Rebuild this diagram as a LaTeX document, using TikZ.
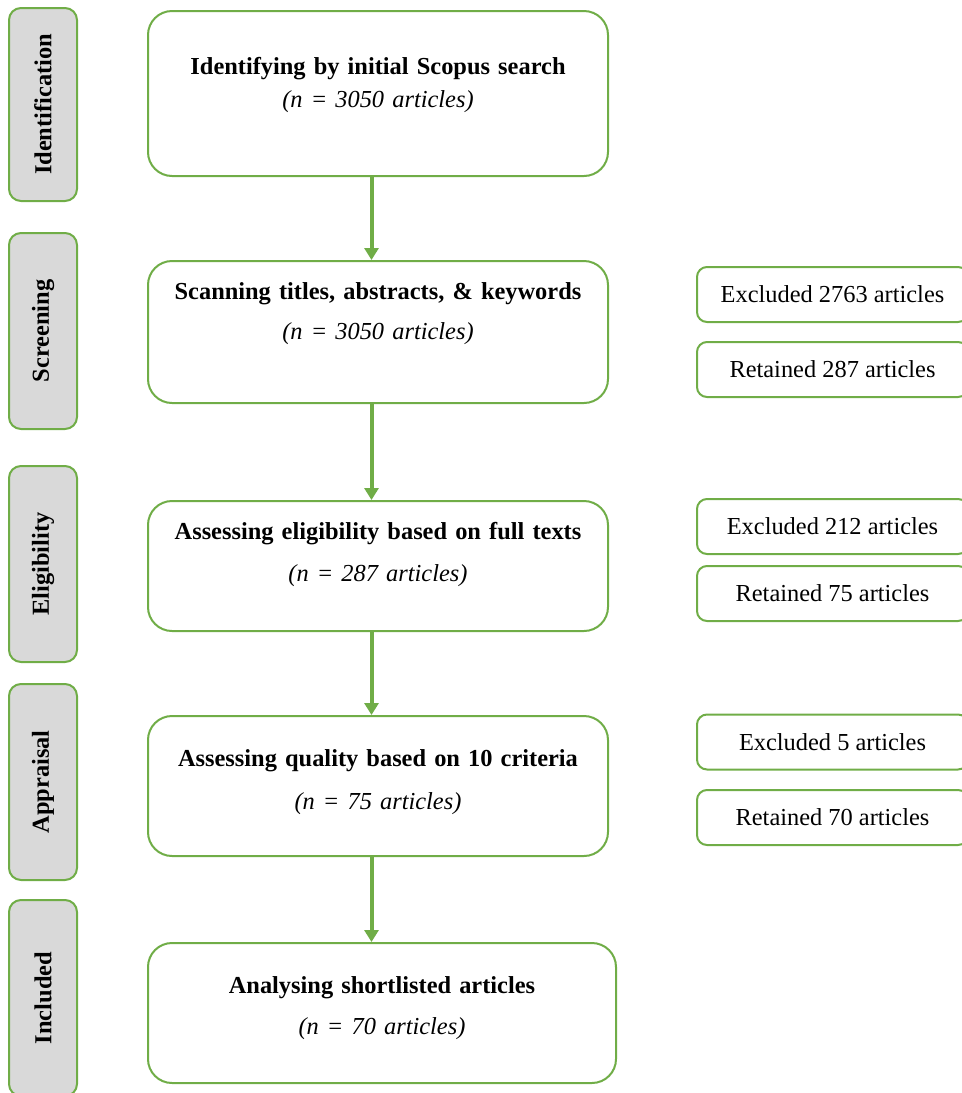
\documentclass[tikz,border=0pt]{standalone}
\usepackage{fontspec}
\setmainfont{Liberation Serif}
\usepackage{tikz}
\usetikzlibrary{arrows.meta,positioning}
\definecolor{stagegreen}{HTML}{70AD47}
\definecolor{stagegray}{HTML}{D9D9D9}

\begin{document}
\begin{tikzpicture}[
    x=0.5pt, y=-0.5pt,
    every node/.style={font=\fontsize{12.2}{14.6}\selectfont},
    stage/.style={rectangle, draw=stagegreen, line width=1pt, fill=stagegray, rounded corners=6pt, rotate=90, minimum width=98pt, minimum height=34pt, inner sep=0pt, font=\fontsize{12.2}{14.6}\selectfont\bfseries},
    box/.style={rectangle, draw=stagegreen, line width=1pt, fill=white, rounded corners=12pt, text width=230pt, align=center, inner sep=0pt, anchor=north west},
    side/.style={rectangle, draw=stagegreen, line width=1pt, rounded corners=5pt, minimum width=135.5pt, minimum height=27.5pt, inner sep=0pt},
    arrow/.style={-{Triangle[width=7pt,length=6pt]}, line width=2pt, draw=stagegreen}
]
\useasboundingbox (0,0) rectangle (962,1093);

\node[stage, minimum width=96.5pt] (identification) at (43,104.5) {Identification};
\node[stage] (screening) at (43,331) {Screening};
\node[stage] (eligibility) at (43,564) {Eligibility};
\node[stage] (appraisal) at (43,782) {Appraisal};
\node[stage] (included) at (43,998) {Included};

\node[box, text height=31.5pt, text depth=51pt] (ident) at (147,10) {\textbf{Identifying by initial Scopus search}\\[1.9pt]\textit{(n = 3050 articles)}};
\node[box, text height=19pt, text depth=52pt] (scan) at (147,260) {\textbf{Scanning titles, abstracts, \& keywords}\\[5.4pt]\textit{(n = 3050 articles)}};
\node[box, text height=19pt, text depth=46pt] (elig) at (147,500) {\textbf{Assessing eligibility based on full texts}\\[6.4pt]\textit{(n = 287 articles)}};
\node[box, text height=25pt, text depth=45pt] (qual) at (147,715) {\textbf{Assessing quality based on 10 criteria}\\[6.9pt]\textit{(n = 75 articles)}};
\node[box, text width=234pt, text height=25pt, text depth=45pt] (anal) at (147,942) {\textbf{Analysing shortlisted articles}\\[5.9pt]\textit{(n = 70 articles)}};

\node[side] (excl1) at (832.5,294.5) {Excluded 2763 articles};
\node[side] (ret1) at (832.5,369.5) {Retained 287 articles};
\node[side] (excl2) at (832.5,526.5) {Excluded 212 articles};
\node[side] (ret2) at (832.5,593.5) {Retained 75 articles};
\node[side] (excl3) at (832.5,742) {Excluded 5 articles};
\node[side] (ret3) at (832.5,817.5) {Retained 70 articles};

\draw[arrow] ([xshift=-3.25pt]ident.south) -- ([xshift=-3.25pt]ident.south |- scan.north);
\draw[arrow] ([xshift=-3.25pt]scan.south) -- ([xshift=-3.25pt]scan.south |- elig.north);
\draw[arrow] ([xshift=-3.25pt]elig.south) -- ([xshift=-3.25pt]elig.south |- qual.north);
\draw[arrow] ([xshift=-3.25pt]qual.south) -- ([xshift=-3.25pt]qual.south |- anal.north);

\end{tikzpicture}
\end{document}
